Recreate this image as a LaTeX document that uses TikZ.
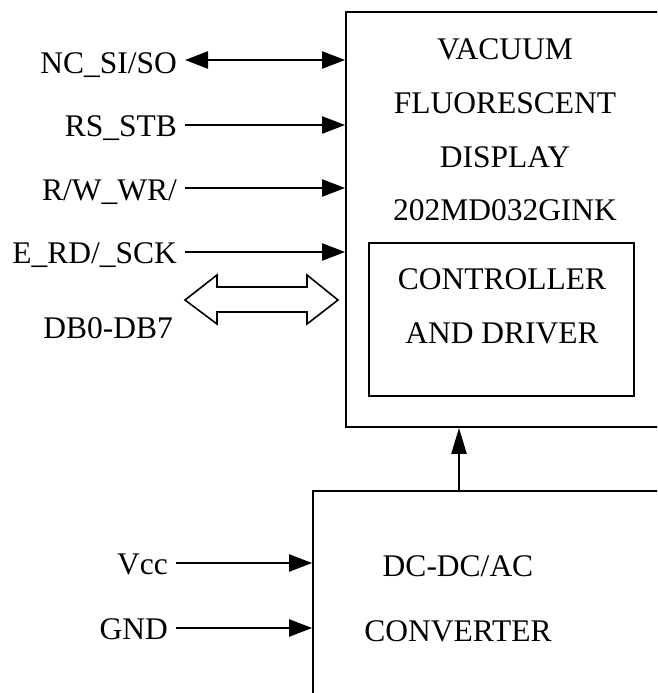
\documentclass[tikz,border=0pt]{standalone}
\usepackage{fontspec}
\setmainfont{Liberation Serif}
\usetikzlibrary{arrows.meta}
\begin{document}
\begin{tikzpicture}[x=1pt,y=-1pt,
  box/.style={draw,line width=1.8pt,rectangle,inner sep=0pt},
  txt/.style={font=\fontsize{31.5}{36}\selectfont,inner sep=0pt,text height=21pt,text depth=0pt},
  lab/.style={txt,anchor=east},
  arr/.style={line width=2.3pt,-{Triangle[length=23pt,width=17pt]}},
  darr/.style={line width=2.3pt,{Triangle[length=23pt,width=17pt]}-{Triangle[length=23pt,width=17pt]}},
  uarr/.style={line width=2.3pt,-{Triangle[length=26pt,width=15pt]}}]
\useasboundingbox (0,0) rectangle (657,693);
\clip (0,0) rectangle (657,693);
\fill[white] (0,0) rectangle (657,693);
% boxes
\node[box,minimum width=324pt,minimum height=415pt] (vfd) at (508,219.5) {};
\node[box,minimum width=265pt,minimum height=153pt] (ctl) at (501.5,319.5) {};
\node[box,minimum width=357pt,minimum height=219pt] (conv) at (491.5,600.5) {};
% texts in boxes
\node[txt] (t1) at (505,49) {VACUUM};
\node[txt] (t2) at (505,103) {FLUORESCENT};
\node[txt] (t3) at (505,157) {DISPLAY};
\node[txt] (t4) at (505,210) {202MD032GINK};
\node[txt] (t5) at (502,279) {CONTROLLER};
\node[txt] (t6) at (502,333) {AND DRIVER};
\node[txt] (t7) at (458,566) {DC-DC/AC};
\node[txt] (t8) at (458,631) {CONVERTER};
% left labels
\node[lab] (nc) at (177,63) {NC\_SI/SO};
\node[lab] (rs) at (177,126) {RS\_STB};
\node[lab] (rw) at (177,190) {R/W\_WR/};
\node[lab] (en) at (177,253) {E\_RD/\_SCK};
\node[lab] (db) at (173,328) {DB0-DB7};
\node[lab] (vcc) at (168,564) {Vcc};
\node[lab] (gnd) at (168,629) {GND};
% start points
\coordinate (ncs) at (185,60);
\coordinate (rss) at (185,125);
\coordinate (rws) at (185,188);
\coordinate (ens) at (185,252);
\coordinate (vccs) at (176,563);
\coordinate (gnds) at (176,628);
\draw[darr] (ncs) -- (ncs -| vfd.west);
\draw[arr] (rss) -- (rss -| vfd.west);
\draw[arr] (rws) -- (rws -| vfd.west);
\draw[arr] (ens) -- (ens -| vfd.west);
\draw[arr] (vccs) -- (vccs -| conv.west);
\draw[arr] (gnds) -- (gnds -| conv.west);
\coordinate (up) at (459,491);
\draw[uarr] (up) -- (up |- vfd.south);
% hollow double arrow
\draw[line width=1.6pt,line join=miter,fill=white]
  (185,300) -- (217,275) -- (217,287) -- (307,287) -- (307,275) -- (338,300)
  -- (307,324) -- (307,312) -- (217,312) -- (217,324) -- cycle;
\end{tikzpicture}
\end{document}
